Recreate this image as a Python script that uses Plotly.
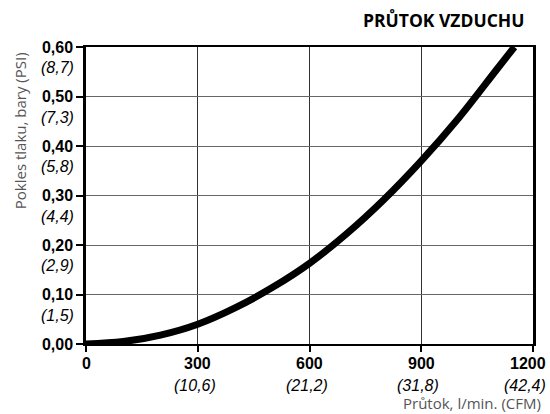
import plotly.graph_objects as go

# flow (l/min) and pressure drop (bar)
flow = [0, 100, 200, 300, 400, 500, 600, 700, 800, 900, 1000, 1100, 1150]
drop = [0, 0.005, 0.018, 0.04, 0.073, 0.114, 0.163, 0.223, 0.292, 0.37, 0.456, 0.552, 0.60]

x_ticks = [0, 300, 600, 900, 1200]
x_labels = ["0", "300", "600", "900", "1200"]
x_cfm = ["", "(10,6)", "(21,2)", "(31,8)", "(42,4)"]

y_ticks = [0, 0.1, 0.2, 0.3, 0.4, 0.5, 0.6]
y_labels = ["0,00", "0,10", "0,20", "0,30", "0,40", "0,50", "0,60"]
y_psi = ["", "(1,5)", "(2,9)", "(4,4)", "(5,8)", "(7,3)", "(8,7)"]

num_font = "Liberation Sans, Arial"
label_font = dict(family="Open Sans", size=15, color="#555")

fig = go.Figure()
fig.add_trace(go.Scatter(
    x=flow, y=drop, mode="lines",
    line=dict(color="black", width=7, shape="spline"),
    hoverinfo="skip",
))

annotations = []
for v, t in zip(y_ticks, y_psi):
    if t:
        annotations.append(dict(
            x=-0.022, xref="paper", y=v - 0.042, yref="y",
            text=f"<i>{t}</i>", showarrow=False,
            xanchor="right", yanchor="middle",
            font=dict(family=num_font, size=16, color="black"),
        ))
for v, b, t in zip(x_ticks, x_labels, x_cfm):
    shift = -5 if v == x_ticks[-1] else 0
    annotations.append(dict(
        x=v, xref="x", y=-0.067, yref="paper", xshift=shift,
        text=f"<b>{b}</b>", showarrow=False,
        xanchor="center", yanchor="middle",
        font=dict(family=num_font, size=16, color="black"),
    ))
    if t:
        annotations.append(dict(
            x=v, xref="x", y=-0.141, yref="paper", xshift=shift - 3,
            text=f"<i>{t}</i>", showarrow=False,
            xanchor="center", yanchor="middle",
            font=dict(family=num_font, size=16, color="black"),
        ))

annotations.append(dict(
    x=-0.146, xref="paper", y=0.719, yref="paper", textangle=-90,
    xanchor="center", yanchor="middle",
    text="Pokles tlaku, bary (PSI)", showarrow=False, font=label_font,
))
annotations.append(dict(
    x=1.022, xref="paper", y=-0.2, yref="paper",
    xanchor="right", yanchor="middle",
    text="Průtok, l/min. (CFM)", showarrow=False, font=label_font,
))
annotations.append(dict(
    x=0.984, xref="paper", y=1.091, yref="paper",
    xanchor="right", yanchor="middle",
    text="<b>PRŮTOK VZDUCHU</b>", showarrow=False,
    font=dict(family="Open Sans", size=17.5, color="black"),
))

fig.update_layout(
    width=550, height=414,
    margin=dict(l=86, r=17, t=47, b=70),
    paper_bgcolor="white", plot_bgcolor="white",
    showlegend=False,
    annotations=annotations,
)
fig.update_xaxes(
    range=[0, 1200], tickvals=x_ticks, showticklabels=False,
    showgrid=True, gridcolor="#333", gridwidth=1,
    showline=True, linecolor="black", linewidth=2, mirror=True,
    ticks="outside", ticklen=6, tickwidth=2, tickcolor="black",
    zeroline=False, automargin=False,
)
fig.update_yaxes(
    range=[0, 0.6], tickvals=y_ticks, ticktext=y_labels,
    tickfont=dict(family=num_font, size=16, color="black", weight="bold"),
    showgrid=True, gridcolor="#666", gridwidth=1,
    showline=True, linecolor="black", linewidth=2.5, mirror=True,
    ticks="outside", ticklen=7, tickwidth=2, tickcolor="black",
    zeroline=False, automargin=False,
)

fig.write_html(
    "out.html",
    config={"displayModeBar": False},
    post_script="document.body.style.margin = '0';",
)
